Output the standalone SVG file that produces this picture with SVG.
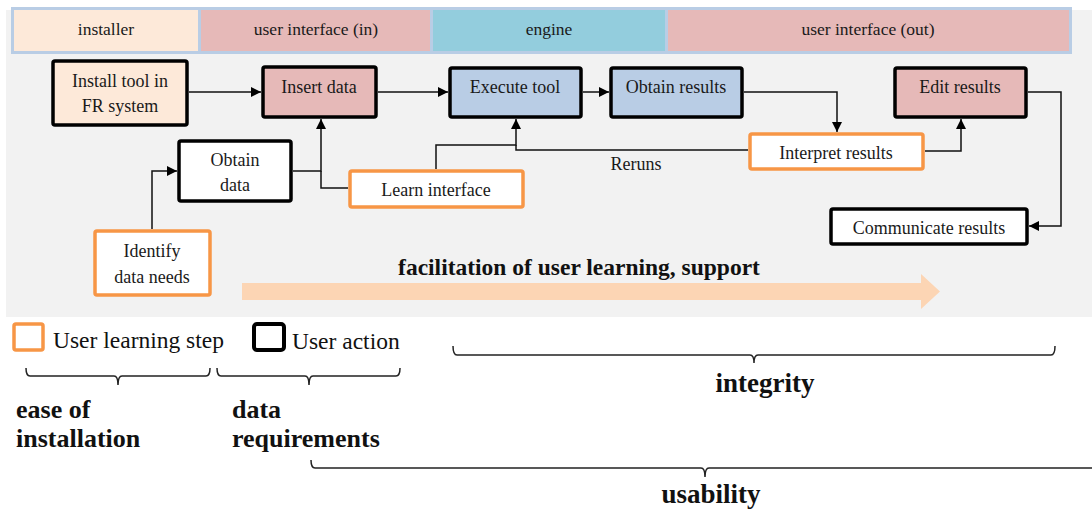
<svg xmlns="http://www.w3.org/2000/svg" width="1092" height="512" viewBox="0 0 1092 512">
  <style>
    .node { stroke: #000; stroke-width: 3.5; }
    .learn { fill: #fff; stroke: #f79646; stroke-width: 3.5; }
    .act { fill: #fff; }
    .peach { fill: #fde9d9; }
    .rose { fill: #e6b9b8; }
    .steel { fill: #b9cde5; }
    .lbl { font-family: "Liberation Serif", "Times New Roman", serif; font-size: 18px; fill: #1a1a1a; text-anchor: middle; }
    .hdr { font-family: "Liberation Serif", "Times New Roman", serif; font-size: 17.5px; fill: #1a1a1a; text-anchor: middle; }
    .leg { font-family: "Liberation Serif", "Times New Roman", serif; font-size: 23.5px; fill: #111; }
    .big { font-family: "Liberation Serif", "Times New Roman", serif; font-size: 26px; font-weight: bold; fill: #111; }
    .big.wide { font-size: 27px; text-anchor: middle; }
    .conn path { fill: none; stroke: #111; stroke-width: 1.5; }
    .brace { fill: none; stroke: #222; stroke-width: 1.5; }
  </style>
  <defs>
    <marker id="arrow" markerUnits="userSpaceOnUse" markerWidth="10" markerHeight="10" refX="10" refY="5" orient="auto">
      <path d="M0,0 L10,5 L0,10 z" fill="#000"/>
    </marker>
  </defs>

  <rect width="1092" height="512" fill="#fff"/>
  <!-- shaded process area -->
  <rect x="6" y="10" width="1086" height="307" fill="#f2f2f2"/>

  <!-- component header band -->
  <g id="header">
    <rect x="11" y="7" width="1061" height="47" fill="#b9cde5"/>
    <rect x="14" y="10" width="184" height="41" fill="#fde9d9"/>
    <rect x="201" y="10" width="229" height="41" fill="#e6b9b8"/>
    <rect x="433" y="10" width="232" height="41" fill="#93cddd"/>
    <rect x="668" y="10" width="401" height="41" fill="#e6b9b8"/>
    <text class="hdr" x="106" y="35">installer</text>
    <text class="hdr" x="316" y="35">user interface (in)</text>
    <text class="hdr" x="549" y="35">engine</text>
    <text class="hdr" x="868" y="35">user interface (out)</text>
  </g>

  <!-- connectors -->
  <g id="connectors" class="conn">
    <path d="M189 92 H261" marker-end="url(#arrow)"/>
    <path d="M378 92 H448" marker-end="url(#arrow)"/>
    <path d="M583 92 H609" marker-end="url(#arrow)"/>
    <path d="M744 92 H837 V132" marker-end="url(#arrow)"/>
    <path d="M925 151 H961 V119" marker-end="url(#arrow)"/>
    <path d="M1028 92 H1061 V226 H1029" marker-end="url(#arrow)"/>
    <path d="M293 171 H321 V119" marker-end="url(#arrow)"/>
    <path d="M348 188 H321 V171"/>
    <path d="M436 169 V145 H516 V119" marker-end="url(#arrow)"/>
    <path d="M748 150 H516 V145"/>
    <path d="M152 229 V171 H177" marker-end="url(#arrow)"/>
  </g>
  <text class="lbl" x="636" y="170">Reruns</text>

  <!-- process steps -->
  <g id="install">
    <rect class="node peach" x="53" y="61" width="134" height="64" rx="2"/>
    <text class="lbl" x="120" y="87">Install tool in</text>
    <text class="lbl" x="120" y="112">FR system</text>
  </g>
  <g id="insert">
    <rect class="node rose" x="263" y="67" width="113" height="50" rx="2"/>
    <text class="lbl" x="319" y="93">Insert data</text>
  </g>
  <g id="execute">
    <rect class="node steel" x="450" y="68" width="131" height="49" rx="2"/>
    <text class="lbl" x="515" y="93">Execute tool</text>
  </g>
  <g id="obtain-results">
    <rect class="node steel" x="611" y="68" width="131" height="49" rx="2"/>
    <text class="lbl" x="676" y="93">Obtain results</text>
  </g>
  <g id="edit">
    <rect class="node rose" x="895" y="68" width="131" height="49" rx="2"/>
    <text class="lbl" x="960" y="93">Edit results</text>
  </g>
  <g id="obtain-data">
    <rect class="node act" x="179" y="141" width="112" height="60" rx="2"/>
    <text class="lbl" x="235" y="166">Obtain</text>
    <text class="lbl" x="235" y="191">data</text>
  </g>
  <g id="learn">
    <rect class="learn" x="350" y="171" width="173" height="36" rx="2"/>
    <text class="lbl" x="436" y="196">Learn interface</text>
  </g>
  <g id="interpret">
    <rect class="learn" x="750" y="134" width="173" height="35" rx="2"/>
    <text class="lbl" x="836" y="159">Interpret results</text>
  </g>
  <g id="communicate">
    <rect class="node act" x="831" y="209" width="196" height="35" rx="2"/>
    <text class="lbl" x="929" y="234">Communicate results</text>
  </g>
  <g id="identify">
    <rect class="learn" x="95" y="231" width="115" height="64" rx="2"/>
    <text class="lbl" x="152" y="257">Identify</text>
    <text class="lbl" x="152" y="283">data needs</text>
  </g>

  <!-- support arrow -->
  <path d="M242 283 H921 V274 L940 291.5 L921 309 V300 H242 Z" fill="#fcd5b4"/>
  <text x="579" y="275" font-family="Liberation Serif, serif" font-size="23.5" font-weight="bold" fill="#111" text-anchor="middle">facilitation of user learning, support</text>

  <!-- legend -->
  <g id="legend">
    <rect x="14" y="324" width="29" height="26" rx="2" fill="#fff" stroke="#f79646" stroke-width="3.5"/>
    <text class="leg" x="53" y="348">User learning step</text>
    <rect x="254" y="324" width="30" height="26" rx="3" fill="#fff" stroke="#000" stroke-width="4"/>
    <text class="leg" x="292" y="349">User action</text>
  </g>

  <!-- quality braces -->
  <path class="brace" d="M26 368 Q26 376 30 376 H114 Q118 376 118 385 Q118 376 122 376 H206 Q210 376 210 368"/>
  <path class="brace" d="M217 368 Q217 376 221 376 H305 Q309 376 309 385 Q309 376 313 376 H396 Q400 376 400 368"/>
  <path class="brace" d="M453 346 Q453 355 457 355 H750 Q754 355 754 363 Q754 355 758 355 H1051 Q1055 355 1055 346"/>
  <path class="brace" d="M311 460 Q311 468 315 468 H701 Q705 468 705 477 Q705 468 709 468 H1100"/>

  <text class="big" x="16" y="418">ease of</text>
  <text class="big" x="16" y="447">installation</text>
  <text class="big" x="232" y="418">data</text>
  <text class="big" x="232" y="447">requirements</text>
  <text class="big wide" x="765" y="392">integrity</text>
  <text class="big wide" x="711" y="503">usability</text>
</svg>
